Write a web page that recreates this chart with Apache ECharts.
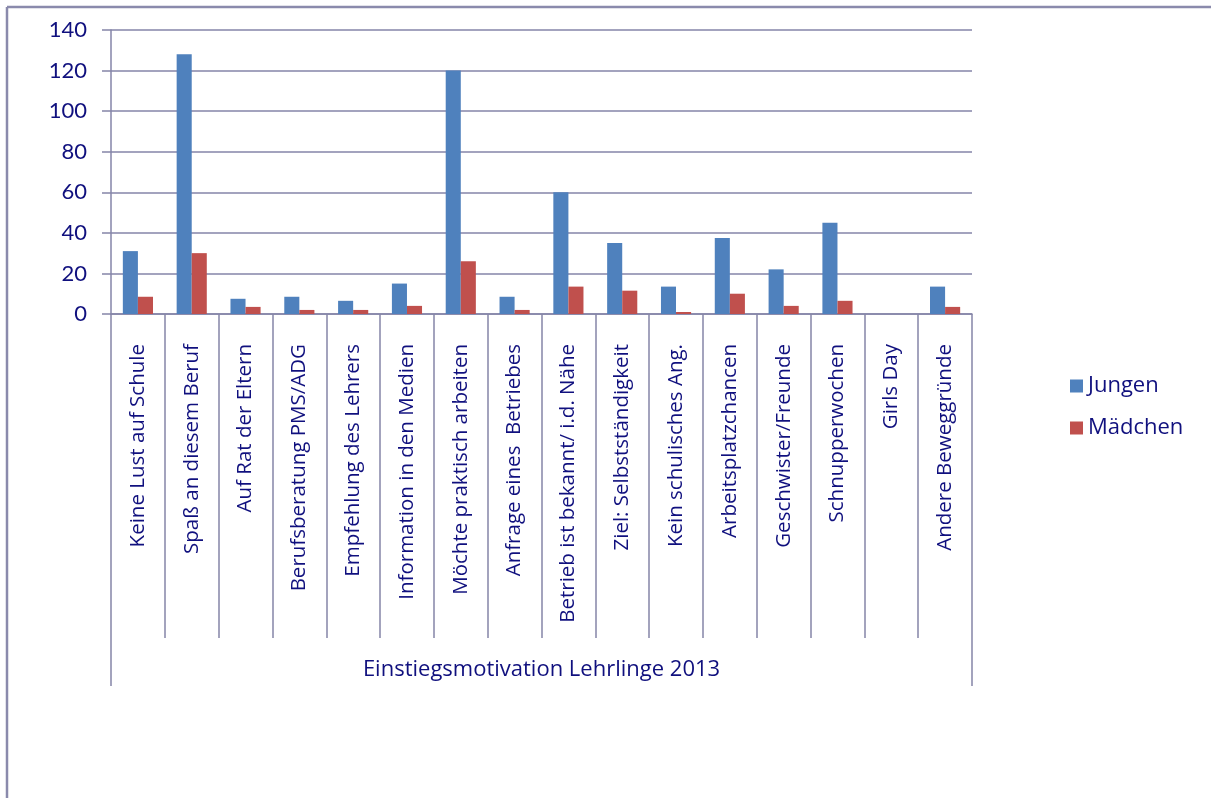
<!DOCTYPE html>
<html>
<head>
<meta charset="utf-8">
<script src="https://cdn.jsdelivr.net/npm/echarts@6/dist/echarts.min.js"></script>
<style>
html,body{margin:0;padding:0;background:#fff;}
#c{width:1211px;height:798px;}
</style>
</head>
<body>
<div id="c"></div>
<script>
var categories = ['Keine Lust auf Schule','Spaß an diesem Beruf','Auf Rat der Eltern','Berufsberatung PMS/ADG','Empfehlung des Lehrers','Information in den Medien','Möchte praktisch arbeiten','Anfrage eines  Betriebes','Betrieb ist bekannt/ i.d. Nähe','Ziel: Selbstständigkeit','Kein schulisches Ang.','Arbeitsplatzchancen','Geschwister/Freunde','Schnupperwochen','Girls Day','Andere Beweggründe'];
var jungen = [31, 128, 7.5, 8.5, 6.5, 15, 120, 8.5, 60, 35, 13.5, 37.5, 22, 45, 0, 13.5];
var maedchen = [8.5, 30, 3.5, 2, 2, 4, 26, 2, 13.5, 11.5, 1, 10, 4, 6.5, 0, 3.5];
var groupLabel = ['Einstiegsmotivation Lehrlinge 2013'];
var yTicks = {min: 0, max: 140, interval: 20};

var navy = '#10107e';
var lineCol = '#8585a8';
var numFont = 'Lato, "Open Sans", sans-serif';
var txtFont = '"Open Sans", Lato, sans-serif';

var chart = echarts.init(document.getElementById('c'), null, {renderer: 'canvas'});
chart.setOption({
  animation: false,
  backgroundColor: '#fff',
  textStyle: {fontFamily: txtFont},
  grid: {left: 111, right: 239, top: 30, bottom: 484, containLabel: false},
  legend: {
    orient: 'vertical', left: 1065, top: 370,
    itemWidth: 13, itemHeight: 13, itemGap: 20,
    icon: 'rect',
    textStyle: {color: navy, fontSize: 22, fontFamily: txtFont, padding: [0,0,0,0]},
    data: ['Jungen', 'Mädchen']
  },
  xAxis: [{
    type: 'category', data: categories, position: 'bottom',
    axisLine: {show: true, lineStyle: {color: lineCol, width: 1.5}},
    axisTick: {show: true, interval: 0, length: 324, alignWithLabel: false, lineStyle: {color: lineCol, width: 1.5}},
    axisLabel: {interval: 0, rotate: 90, margin: 30, color: navy, fontSize: 20.5, fontFamily: txtFont}
  }, {
    type: 'category', data: groupLabel, position: 'bottom', gridIndex: 0,
    axisLine: {show: false},
    axisTick: {show: true, interval: 0, length: 372, lineStyle: {color: lineCol, width: 1.5}},
    axisLabel: {interval: 0, margin: 345, color: navy, fontSize: 22, fontFamily: txtFont}
  }],
  yAxis: {
    type: 'value', min: yTicks.min, max: yTicks.max, interval: yTicks.interval,
    axisLine: {show: true, lineStyle: {color: lineCol, width: 1.5}},
    axisTick: {show: true, length: 9, lineStyle: {color: lineCol, width: 1.5}},
    axisLabel: {color: navy, fontSize: 22, fontFamily: numFont, margin: 24},
    splitLine: {show: true, lineStyle: {color: lineCol, width: 1.5}}
  },
  series: [{
    name: 'Jungen', type: 'bar', data: jungen, xAxisIndex: 0,
    barGap: '0%', barCategoryGap: '44%',
    itemStyle: {color: '#4f81bd'}
  }, {
    name: 'Mädchen', type: 'bar', data: maedchen, xAxisIndex: 0,
    barGap: '0%', barCategoryGap: '44%',
    itemStyle: {color: '#c0504d'}
  }],
  graphic: [{
    type: 'line', shape: {x1: 7, y1: 7, x2: 1211, y2: 7},
    style: {stroke: '#8a8aac', lineWidth: 2.5}
  }, {
    type: 'line', shape: {x1: 7, y1: 7, x2: 7, y2: 798},
    style: {stroke: '#8a8aac', lineWidth: 2.5}
  }]
});
</script>
</body>
</html>
